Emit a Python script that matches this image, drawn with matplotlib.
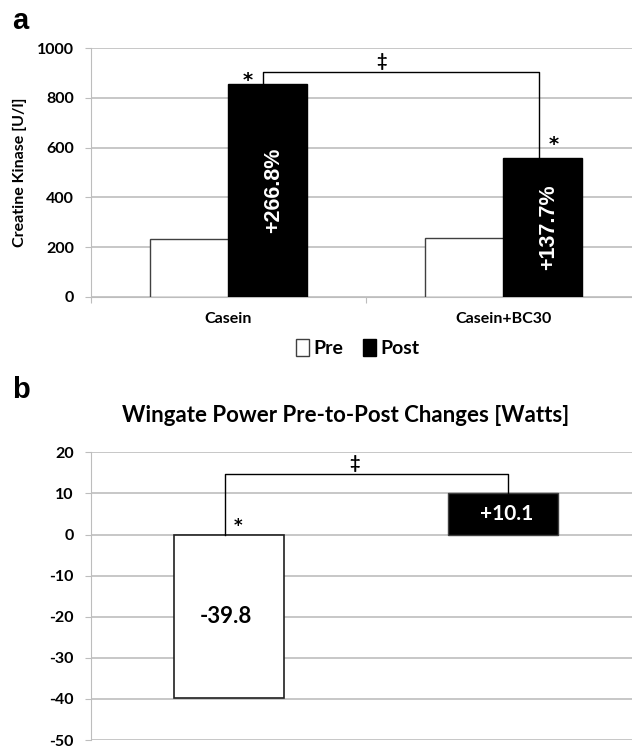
import matplotlib
matplotlib.use('Agg')
import matplotlib.pyplot as plt
from matplotlib.patches import Patch

plt.rcParams['font.family'] = ['Lato', 'DejaVu Sans']
plt.rcParams['font.weight'] = 'bold'
plt.rcParams['axes.unicode_minus'] = False

# data
categories = ['Casein', 'Casein+BC30']
ck_pre = [233, 238]
ck_post = [855, 560]
ck_change = ['+266.8%', '+137.7%']
watt_change = [-39.8, 10.1]
watt_labels = ['-39.8', '+10.1']

grid_c = '#bdbdbd'
W, H = 632, 746

fig = plt.figure(figsize=(W / 100, H / 100), dpi=100)

# ---- panel a
ax = fig.add_axes([91 / W, 1 - 296.7 / H, 550 / W, 248.4 / H])
bw = 0.286
xs = range(len(categories))
for i in xs:
    ax.bar(i + 0.2145, ck_pre[i], width=bw, align='edge', color='white',
           edgecolor='#404040', linewidth=1, zorder=3)
    ax.bar(i + 0.5, ck_post[i], width=bw, align='edge', color='black',
           edgecolor='black', linewidth=1, zorder=3)
    ax.text(i + 0.5 + bw / 2 + 0.02, ck_post[i] / 2, ck_change[i], rotation=90,
            color='white', ha='center', va='center', fontsize=15.5,
            fontweight='bold', family='Liberation Sans', zorder=4)

ax.set_xlim(0, 2)
ax.set_ylim(0, 1000)
ax.set_yticks(range(0, 1001, 200))
ax.set_xticks([0, 1, 2])
ax.set_xticklabels([])
ax.set_xticks([0.5, 1.5], minor=True)
ax.set_xticklabels(categories, minor=True, fontsize=11.5, fontweight='bold')
ax.tick_params(axis='x', which='minor', length=0, pad=11)
ax.tick_params(axis='x', which='major', length=4, color=grid_c)
ax.tick_params(axis='y', length=4.3, color=grid_c, labelsize=11.5, pad=8)
ax.grid(axis='y', color=grid_c, linewidth=1.2, zorder=0)
ax.set_axisbelow(True)
for s in ['top', 'right']:
    ax.spines[s].set_visible(False)
ax.spines['left'].set_color(grid_c)
ax.spines['bottom'].set_color(grid_c)
ax.set_ylabel('Creatine Kinase [U/l]', fontsize=11.5, fontweight='bold', labelpad=7)

# significance bracket
bl, br, top = 0.627, 1.630, 904
ax.plot([bl, bl, br, br], [ck_post[0], top, top, ck_post[1]], color='black',
        linewidth=1, zorder=5)
ax.text(0.571, 870, '*', ha='center', va='center', fontsize=14, family='DejaVu Sans')
ax.text(1.684, 611, '*', ha='center', va='center', fontsize=14, family='DejaVu Sans')
ax.text(1.055, 946, '‡', ha='center', va='center', fontsize=13)

fig.legend(handles=[Patch(facecolor='white', edgecolor='#404040', label='Pre'),
                    Patch(facecolor='black', edgecolor='black', label='Post')],
           loc='center', bbox_to_anchor=(357.5 / W, 1 - 348.3 / H), ncol=2,
           frameon=False, handlelength=0.7, handleheight=0.9,
           handletextpad=0.2, columnspacing=1.0, prop={'weight': 'bold', 'size': 14})

fig.text(20 / W, 1 - 21 / H, 'a', fontsize=21, fontweight='bold',
         ha='center', va='center', family='Liberation Sans')

# ---- panel b
bx = fig.add_axes([91 / W, 1 - 740 / H, 550 / W, 287.7 / H])
bx.bar([0.5], [watt_change[0]], width=0.4, color='white', edgecolor='#202020',
       linewidth=1.2, zorder=3)
bx.bar([1.5], [watt_change[1]], width=0.4, color='black', edgecolor='#404040',
       linewidth=1, zorder=3)
bx.text(0.49, watt_change[0] / 2, watt_labels[0], ha='center', va='center',
        fontsize=16, fontweight='bold', color='black', zorder=4)
bx.text(1.51, watt_change[1] / 2, watt_labels[1], ha='center', va='center',
        fontsize=15, fontweight='bold', color='white', zorder=4)

bx.set_xlim(0, 2)
bx.set_ylim(-50, 20)
bx.set_yticks(range(-50, 21, 10))
bx.set_xticks([])
bx.tick_params(axis='y', length=4.3, color=grid_c, labelsize=11.5, pad=8)
bx.grid(axis='y', color=grid_c, linewidth=1.2, zorder=0)
bx.set_axisbelow(True)
for s in ['top', 'right', 'bottom']:
    bx.spines[s].set_visible(False)
bx.spines['left'].set_color(grid_c)

bl, br, top = 0.487, 1.516, 14.6
bx.plot([bl, bl, br, br], [0, top, top, watt_change[1]], color='black',
        linewidth=1, zorder=5)
bx.text(0.533, 2.0, '*', ha='center', va='center', fontsize=12, family='DejaVu Sans')
bx.text(0.957, 17.3, '‡', ha='center', va='center', fontsize=13)

fig.text(345.7 / W, 1 - 415 / H, 'Wingate Power Pre-to-Post Changes [Watts]',
         ha='center', va='center', fontsize=16, fontweight='bold')
fig.text(21 / W, 1 - 390 / H, 'b', fontsize=21, fontweight='bold',
         ha='center', va='center', family='Liberation Sans')

fig.savefig('out.png', dpi=100)
